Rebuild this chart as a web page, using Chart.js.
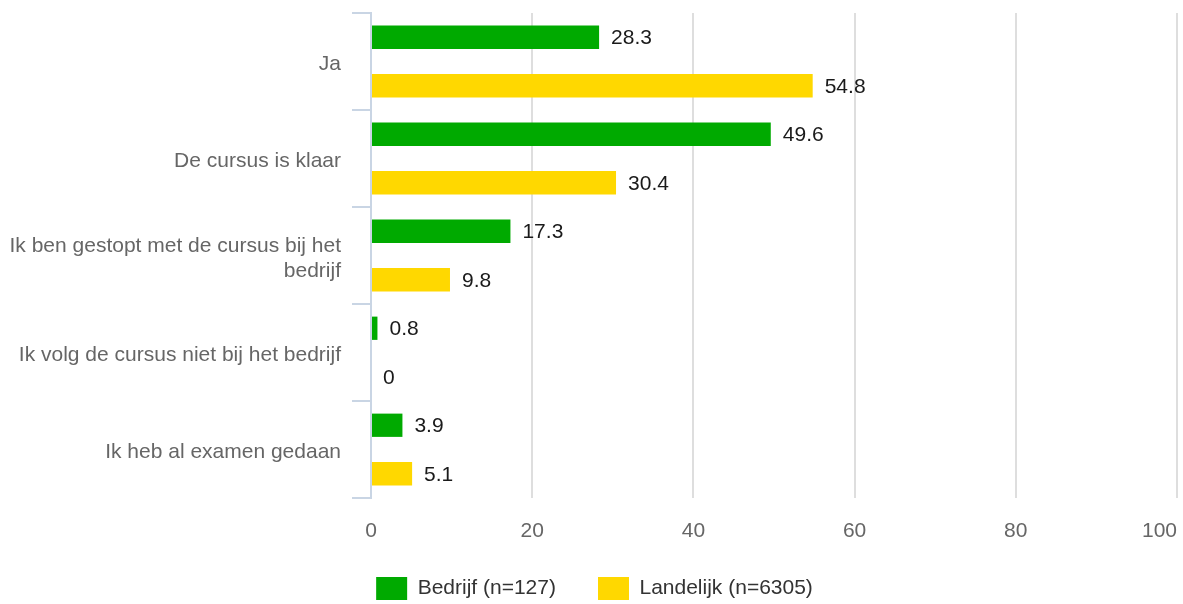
<!DOCTYPE html>
<html>
<head>
<meta charset="utf-8">
<script src="https://cdn.jsdelivr.net/npm/chart.js@4/dist/chart.umd.min.js"></script>
<style>
  html, body { margin: 0; padding: 0; background: #fff; }
  #wrap { width: 1183px; height: 604px; }
</style>
</head>
<body>
<div id="wrap"><canvas id="myChart" width="1183" height="604"></canvas></div>
<script>
var categories = [
  "Ja",
  "De cursus is klaar",
  ["Ik ben gestopt met de cursus bij het", "bedrijf"],
  "Ik volg de cursus niet bij het bedrijf",
  "Ik heb al examen gedaan"
];
var bedrijf = [28.3, 49.6, 17.3, 0.8, 3.9];
var landelijk = [54.8, 30.4, 9.8, 0, 5.1];
var seriesNames = ["Bedrijf (n=127)", "Landelijk (n=6305)"];

var fontFamily = '"Liberation Sans", Arial, sans-serif';
Chart.defaults.font.family = fontFamily;
Chart.defaults.font.size = 21;

// value labels right of each bar
var valueLabels = {
  id: "valueLabels",
  afterDatasetsDraw: function (chart) {
    var ctx = chart.ctx;
    ctx.save();
    ctx.font = "21px " + fontFamily;
    ctx.fillStyle = "#1a1a1a";
    ctx.textAlign = "left";
    ctx.textBaseline = "middle";
    chart.data.datasets.forEach(function (ds, i) {
      chart.getDatasetMeta(i).data.forEach(function (bar, j) {
        ctx.fillText(String(ds.data[j]), bar.x + 12, bar.y + 1);
      });
    });
    ctx.restore();
  }
};

// legend sits a bit closer to the axis labels than the layout allows
var legendNudge = {
  id: "legendNudge",
  afterInit: function (chart) {
    var lg = chart.legend;
    if (!lg) return;
    var draw = lg.draw;
    lg.draw = function () {
      var c = this.ctx;
      var b = this.bottom, h = this.height;
      this.bottom = b + 10;
      this.height = h + 10;
      c.save();
      c.translate(6, -8);
      draw.apply(this, arguments);
      c.restore();
      this.bottom = b;
      this.height = h;
    };
  }
};

var ctx = document.getElementById("myChart").getContext("2d");
var chart = new Chart(ctx, {
  type: "bar",
  data: {
    labels: categories,
    datasets: [
      {
        label: seriesNames[0],
        data: bedrijf,
        backgroundColor: "rgb(0,170,0)",
        borderWidth: 0,
        categoryPercentage: 1.0,
        barPercentage: 0.48
      },
      {
        label: seriesNames[1],
        data: landelijk,
        backgroundColor: "rgb(255,216,0)",
        borderWidth: 0,
        categoryPercentage: 1.0,
        barPercentage: 0.48
      }
    ]
  },
  options: {
    indexAxis: "y",
    responsive: false,
    animation: false,
    devicePixelRatio: 1,
    layout: { padding: { top: 13, right: 6, bottom: 0, left: 0 } },
    plugins: {
      tooltip: { enabled: false },
      legend: {
        position: "bottom",
        maxHeight: 61,
        labels: {
          boxWidth: 31,
          boxHeight: 23,
          padding: 42,
          color: "#333",
          font: { size: 21 }
        }
      }
    },
    scales: {
      x: {
        min: 0,
        max: 100,
        ticks: {
          stepSize: 20,
          color: "#666",
          padding: 21,
          maxRotation: 0,
          // last label sits inside the plot like the original
          callback: function (v) {
            return v === 100 ? "100\u2007\u2007\u2007" : String(v);
          }
        },
        grid: {
          drawTicks: false,
          lineWidth: 2,
          color: function (c) {
            return c.tick && c.tick.value === 0 ? "rgba(0,0,0,0)" : "#dedede";
          }
        },
        border: { display: false },
        afterFit: function (scale) {
          scale.height = 45;
          scale.paddingLeft = 0;
          scale.paddingRight = 0;
        }
      },
      y: {
        ticks: { color: "#666", padding: 11, labelOffset: 3 },
        grid: {
          offset: true,
          drawOnChartArea: false,
          drawTicks: true,
          tickLength: 19,
          lineWidth: 2,
          color: "#c9d5e4"
        },
        border: { display: true, color: "#c9d5e4", width: 2 },
        afterFit: function (scale) {
          scale.width = 371;
          scale.paddingTop = 0;
          scale.paddingBottom = 0;
        }
      }
    }
  },
  plugins: [valueLabels, legendNudge]
});
</script>
</body>
</html>
